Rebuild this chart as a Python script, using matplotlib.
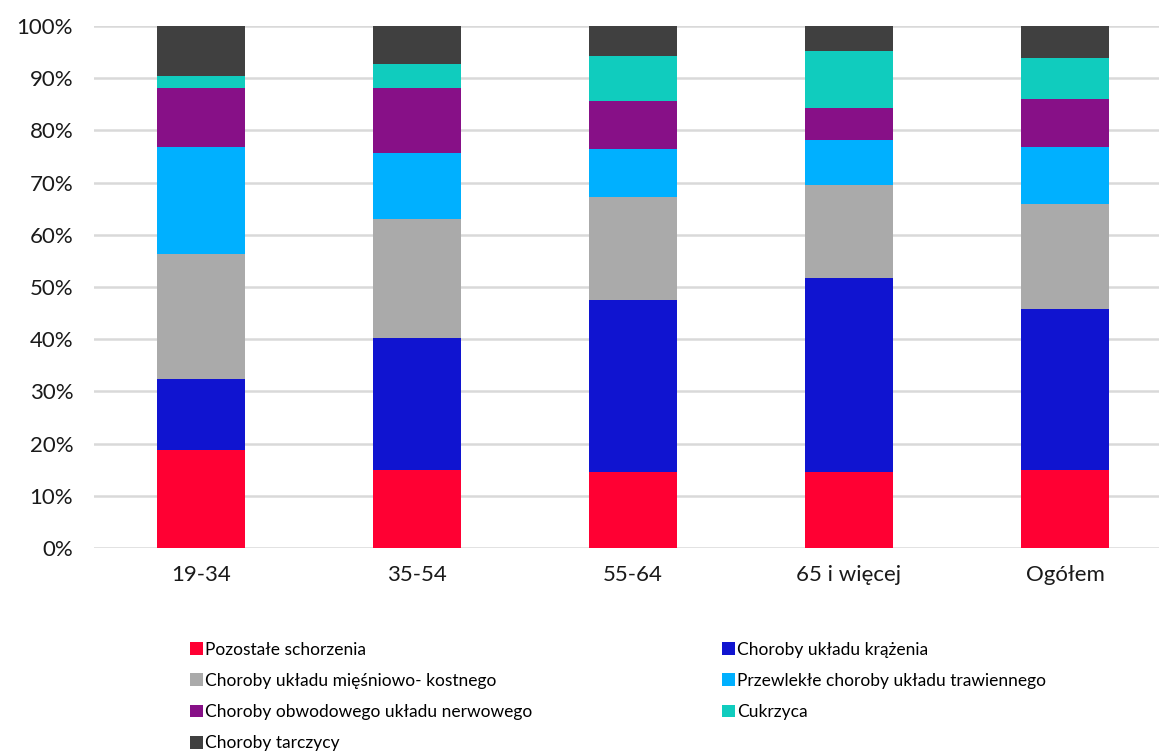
import matplotlib.pyplot as plt
import numpy as np
from matplotlib.ticker import PercentFormatter

plt.rcParams['font.family'] = ['Lato', 'DejaVu Sans']

# grupy wiekowe
groups = ['19-34', '35-54', '55-64', '65 i więcej', 'Ogółem']

# udział schorzeń w każdej grupie (%)
pozostale = [18.7, 14.9, 14.5, 14.5, 15.0]
krazenia = [13.6, 25.4, 33.1, 37.3, 30.7]
miesniowo = [24.1, 22.7, 19.7, 17.8, 20.2]
trawienny = [20.5, 12.6, 9.2, 8.5, 11.0]
nerwowy = [11.3, 12.6, 9.2, 6.1, 9.2]
cukrzyca = [2.3, 4.6, 8.5, 11.0, 7.8]
tarczyca = [9.5, 7.2, 5.8, 4.8, 6.1]

series = [
    ('Pozostałe schorzenia', pozostale, '#FF0033'),
    ('Choroby układu krążenia', krazenia, '#1014D0'),
    ('Choroby układu mięśniowo- kostnego', miesniowo, '#AAAAAA'),
    ('Przewlekłe choroby układu trawiennego', trawienny, '#00B0FF'),
    ('Choroby obwodowego układu nerwowego', nerwowy, '#871087'),
    ('Cukrzyca', cukrzyca, '#10CCBE'),
    ('Choroby tarczycy', tarczyca, '#404040'),
]

fig = plt.figure(figsize=(11.59, 7.51), dpi=100)
ax = fig.add_axes([94 / 1159, 203 / 751, 1 - 94 / 1159, 522 / 751])

x = np.arange(len(groups))
bottom = np.zeros(len(groups))
for name, vals, color in series:
    ax.bar(x, vals, width=0.41, bottom=bottom, color=color, label=name, zorder=3)
    bottom += np.array(vals)

ax.set_ylim(0, 100)
ax.set_xlim(-0.495, 4.435)
ax.set_yticks(np.arange(0, 101, 10))
ax.yaxis.set_major_formatter(PercentFormatter(decimals=0))
ax.set_xticks(x)
ax.set_xticklabels(groups)
ax.tick_params(axis='both', length=0, labelsize=16, colors='#1a1a1a')
ax.tick_params(axis='x', pad=12)
ax.tick_params(axis='y', pad=15)
ax.grid(axis='y', color='#D9D9D9', linewidth=1.8, zorder=0)
for s in ax.spines.values():
    s.set_visible(False)

# legenda wypełniana wierszami (2 kolumny)
handles, labels = ax.get_legend_handles_labels()
order = [0, 2, 4, 6, 1, 3, 5]
leg = fig.legend(
    [handles[i] for i in order], [labels[i] for i in order],
    loc='upper left', bbox_to_anchor=(174 / 1159, 1 - 626 / 751), ncol=2,
    frameon=False, fontsize=12.5, handlelength=0.75, handleheight=0.75,
    handletextpad=0.15, columnspacing=10.9, labelspacing=0.88,
)

fig.savefig('out.png', dpi=100)
